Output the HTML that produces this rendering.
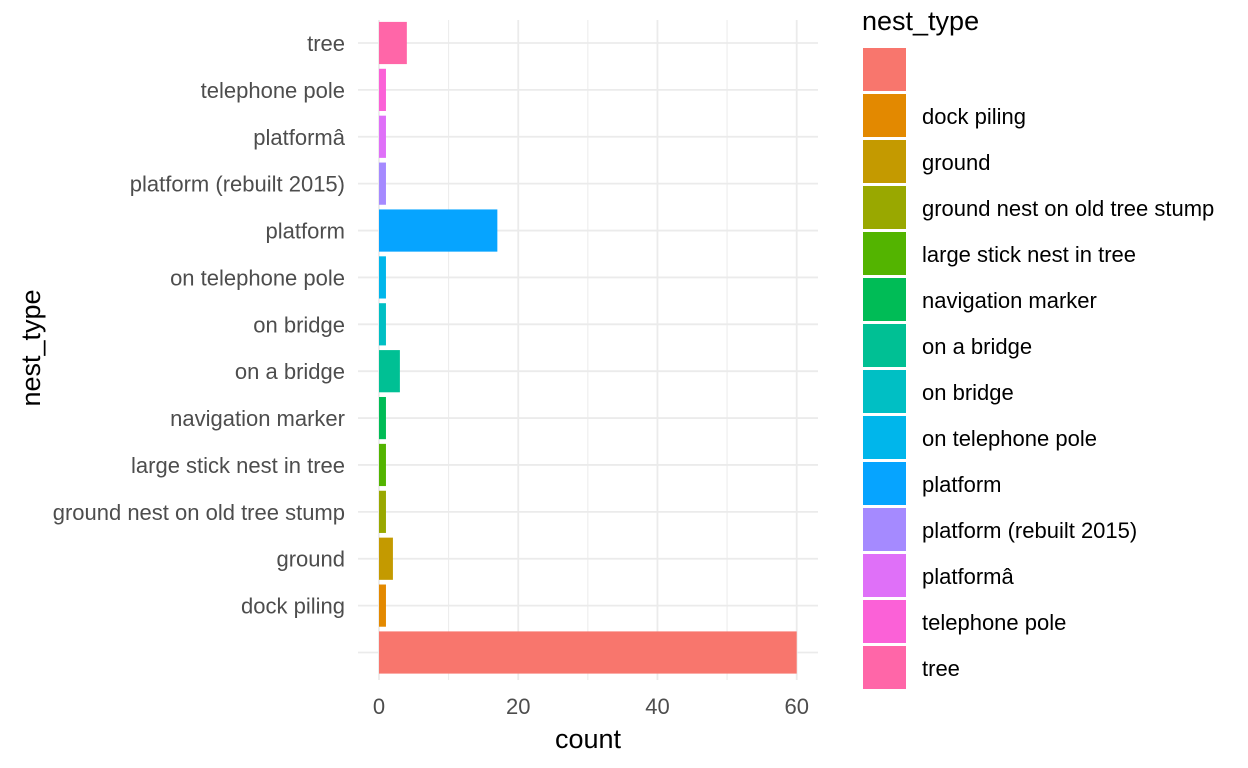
<!DOCTYPE html>
<html><head><meta charset="utf-8"><style>
html,body{margin:0;background:#fff;font-family:"Liberation Sans",sans-serif;width:1248px;height:768px;overflow:hidden;}
svg{display:block;}
svg text{font-family:"Liberation Sans",sans-serif;}
</style></head><body>
<div style="position:relative;width:1248px;height:768px">
<svg id="c" width="1248" height="768" style="position:absolute;left:0;top:0"></svg>
<svg width="1248" height="768" style="position:absolute;left:0;top:0">
<text x="588" y="748" text-anchor="middle" font-size="27" fill="#000">count</text>
<text transform="translate(40,348) rotate(-90)" text-anchor="middle" font-size="27" fill="#000">nest_type</text>
<text x="862" y="30" font-size="27" fill="#000">nest_type</text>
</svg></div>
<script>
const categories=["","dock piling","ground","ground nest on old tree stump","large stick nest in tree","navigation marker","on a bridge","on bridge","on telephone pole","platform","platform (rebuilt 2015)","platformâ","telephone pole","tree"];
const counts=[60,1,2,1,1,1,3,1,1,17,1,1,1,4];
const colors=["#F8766D","#E38900","#C49A00","#99A800","#53B400","#00BC56","#00C094","#00BFC4","#00B6EB","#06A4FF","#A58AFF","#DF70F8","#FB61D7","#FF66A8"];
const xTicks=[0,20,40,60];
const xMinor=[10,30,50];
const NS="http://www.w3.org/2000/svg";
const svg=document.getElementById('c');
function mk(t,a,p){const e=document.createElementNS(NS,t);for(const k in a)e.setAttribute(k,a[k]);(p||svg).appendChild(e);return e;}
const x=v=>379+v*(796.7-379)/60;
const step=(652.5-43)/13;
const y=i=>652.5-i*step;
const bh=step*0.9;
const L=358,R=818;
xMinor.forEach(v=>{const l=mk('line',{x1:x(v),x2:x(v),y1:20,y2:680,stroke:'#ebebeb','stroke-width':1});

});
xTicks.forEach(v=>{const l=mk('line',{x1:x(v),x2:x(v),y1:20,y2:680,stroke:'#ebebeb','stroke-width':1.8});


const t=mk('text',{x:x(v),y:714,'text-anchor':'middle','font-size':22,fill:'#4d4d4d'});t.textContent=v;

});
categories.forEach((c,i)=>{const l=mk('line',{x1:L,x2:R,y1:y(i),y2:y(i),stroke:'#ebebeb','stroke-width':1.8});

});
categories.forEach((c,i)=>{
const r=mk('rect',{x:x(0),y:y(i)-bh/2,width:x(counts[i])-x(0),height:bh,fill:colors[i]});


const t=mk('text',{x:345,y:y(i)+8,'text-anchor':'end','font-size':22,fill:'#4d4d4d'});t.textContent=c;


const k=mk('rect',{x:863,y:48+i*46,width:43,height:43,fill:colors[i]});


const lt=mk('text',{x:922,y:48+i*46+30,'font-size':22,fill:'#000'});lt.textContent=c;


});
</script>
</body></html>
